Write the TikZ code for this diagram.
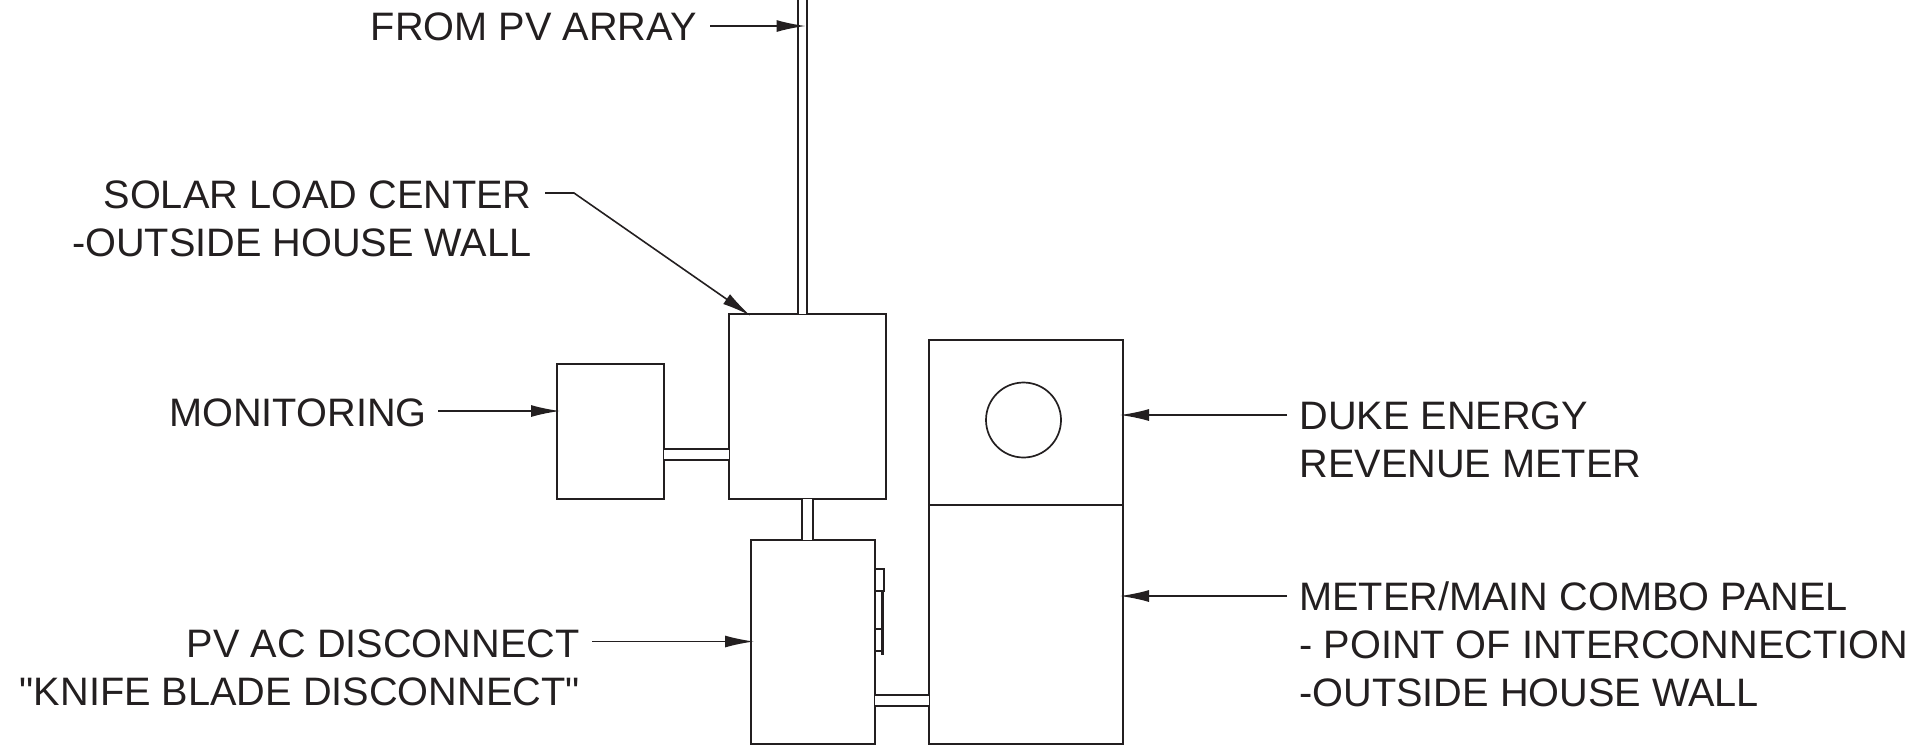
\documentclass[tikz,border=0pt]{standalone}
\usepackage{fontspec}
\newfontfamily\labelfont{Liberation Sans}
\usepackage{tikz}
\usetikzlibrary{arrows.meta}
\definecolor{ink}{HTML}{231F20}
\tikzset{
  unit/.style={draw=ink, line width=0.85pt, inner sep=0pt, outer sep=0pt, rectangle},
  label/.style={text=ink, inner sep=0pt, font=\labelfont\fontsize{19.85}{24}\selectfont},
  leader/.style={draw=ink, line width=0.8pt, shorten >=-1.5pt, -{Latex[length=14.5pt,width=6pt]}},
  conduit/.style={draw=ink, line width=0.85pt, double=white, double distance=4.5pt},
}

\begin{document}
\begin{tikzpicture}[x=0.5pt, y=-0.5pt]
  \useasboundingbox (0,0) rectangle (1927,751);
  % equipment
  \node (solar) [unit, minimum width=78.5pt, minimum height=92.5pt] at (807.5,406.5) {};
  \node (monitor) [unit, minimum width=53.5pt, minimum height=67.5pt] at (610.5,431.5) {};
  \node (discon) [unit, minimum width=62pt, minimum height=102pt] at (813,642) {};
  \node (meter) [unit, minimum width=97pt, minimum height=82.5pt] at (1026,422.5) {};
  \node (panel) [unit, minimum width=97pt, minimum height=119.5pt] at (1026,624.5) {};
  \node (dial) [unit, circle, minimum size=37.5pt] at (1023.5,420) {};
  \node (handleup) [unit, anchor=north west, minimum width=4.5pt, minimum height=11pt] at (875,569) {};
  \node (handlelow) [unit, anchor=north west, minimum width=3.5pt, minimum height=11pt] at (875,629) {};
  \coordinate (barend) at (882,655);
  \draw[ink, line width=1.5pt] (barend |- handleup.south) -- (barend);
  % conduits
  \coordinate (feed) at (802.5,0);
  \coordinate (monlink) at (664,454.5);
  \coordinate (panellink) at (875,700.5);
  \draw[conduit, double distance=3.7pt] (feed) -- (feed |- solar.north);
  \draw[conduit] (monlink) -- (monlink -| solar.west);
  \draw[conduit] (solar.south) -- (solar.south |- discon.north);
  \draw[conduit] (panellink) -- (panellink -| panel.west);
  % labels
  \node (lblpv) [label, anchor=east] at (697,27) {FROM PV ARRAY};
  \node (lblsolar) [label, anchor=east, align=right] at (532,219) {SOLAR LOAD CENTER\\-OUTSIDE HOUSE WALL};
  \node (lblmon) [label, anchor=east] at (427,413) {MONITORING};
  \node (lbldis) [label, anchor=east, align=right] at (580,668) {PV AC DISCONNECT\\"KNIFE BLADE DISCONNECT"};
  \node (lblduke) [label, anchor=west, align=left] at (1299,440) {DUKE ENERGY\\REVENUE METER};
  \node (lblpanel) [label, anchor=west, align=left] at (1299,644) {METER/MAIN COMBO PANEL\\- POINT OF INTERCONNECTION\\-OUTSIDE HOUSE WALL};
  % leaders
  \coordinate (pvstart) at (710,26);
  \coordinate (solarstart) at (545,193);
  \coordinate (solarkink) at (574,193);
  \coordinate (solarend) at (748,314);
  \coordinate (monstart) at (438,411);
  \coordinate (disstart) at (592,641.5);
  \coordinate (dukestart) at (1287,415);
  \coordinate (panelstart) at (1287,596);
  \draw[leader] (pvstart) -- (pvstart -| feed);
  \draw[leader] (solarstart) -- (solarkink) -- (solarend);
  \draw[leader] (monstart) -- (monstart -| monitor.west);
  \draw[leader] (disstart) -- (disstart -| discon.west);
  \draw[leader] (dukestart) -- (dukestart -| meter.east);
  \draw[leader] (panelstart) -- (panelstart -| panel.east);
\end{tikzpicture}
\end{document}
